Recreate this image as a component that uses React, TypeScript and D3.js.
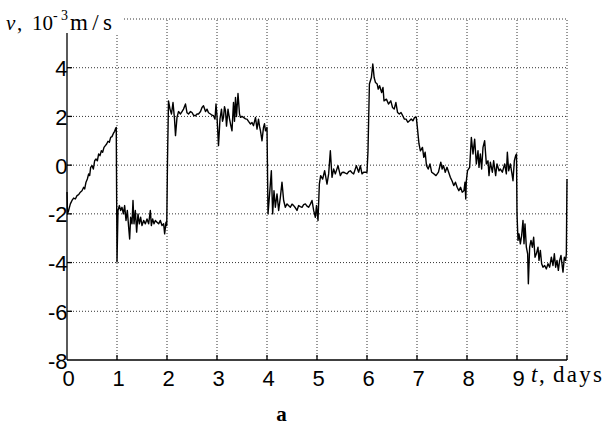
import React, { useEffect, useRef } from 'react';
import * as d3 from 'd3';

type Pt = [number, number];

// v in 10^-3 m/s against t in days, one array per day
const day0: Pt[] = [
  [0, -1.1], [0.01, -2.0], [0.033, -1.86], [0.067, -1.59], [0.1, -1.45], [0.133, -1.35],
  [0.167, -1.39], [0.2, -1.25], [0.233, -1.21], [0.267, -1.11], [0.3, -1.05], [0.333, -0.91],
  [0.353, -0.98], [0.38, -0.7], [0.407, -0.57], [0.433, -0.36], [0.453, -0.43], [0.473, -0.09],
  [0.5, -0.02], [0.527, -0.16], [0.553, 0.18], [0.58, 0.25], [0.607, 0.18], [0.633, 0.46],
  [0.66, 0.39], [0.687, 0.59], [0.713, 0.53], [0.74, 0.73], [0.767, 0.8], [0.793, 0.87],
  [0.82, 0.98], [0.847, 0.94], [0.873, 1.14], [0.9, 1.17], [0.927, 1.3], [0.953, 1.39],
  [0.967, 1.48], [0.985, 1.55],
];
const day1: Pt[] = [
  [1.0, -3.98], [1.02, -1.86], [1.047, -1.66], [1.073, -1.86], [1.1, -1.73], [1.127, -2.0],
  [1.153, -1.66], [1.18, -2.27], [1.207, -1.86], [1.233, -2.55], [1.253, -3.03], [1.273, -2.14],
  [1.3, -2.41], [1.32, -1.45], [1.34, -2.41], [1.367, -1.86], [1.393, -2.75], [1.42, -2.0],
  [1.447, -2.41], [1.473, -2.14], [1.5, -2.48], [1.533, -2.27], [1.567, -2.41], [1.6, -2.21],
  [1.633, -2.41], [1.667, -1.86], [1.687, -2.48], [1.713, -2.21], [1.74, -2.41], [1.767, -2.27],
  [1.8, -2.34], [1.833, -2.41], [1.867, -2.27], [1.9, -2.48], [1.933, -2.41], [1.953, -2.82],
  [1.98, -2.34], [1.995, -2.48],
];
const day2: Pt[] = [
  [2.01, 0.2], [2.03, 2.64], [2.06, 2.3], [2.09, 2.1], [2.12, 2.57], [2.15, 1.9], [2.17, 1.21],
  [2.2, 1.96], [2.23, 2.2], [2.27, 2.1], [2.3, 2.2], [2.33, 2.3], [2.37, 2.51], [2.4, 2.15],
  [2.43, 2.1], [2.47, 2.2], [2.5, 2.16], [2.53, 2.05], [2.57, 2.03], [2.6, 2.1], [2.63, 2.1],
  [2.67, 2.2], [2.7, 2.37], [2.73, 2.44], [2.77, 2.2], [2.8, 2.3], [2.83, 2.15], [2.87, 2.1],
  [2.9, 2.05], [2.93, 2.03], [2.96, 1.89], [2.98, 2.51],
];
const day3: Pt[] = [
  [3.0, 2.0], [3.03, 0.8], [3.06, 1.9], [3.09, 2.3], [3.11, 1.8], [3.13, 1.96], [3.15, 2.4],
  [3.17, 2.23], [3.19, 1.6], [3.2, 1.82], [3.22, 2.3], [3.23, 2.16], [3.25, 1.9], [3.27, 1.69],
  [3.3, 1.41], [3.32, 2.2], [3.33, 2.57], [3.35, 1.8], [3.37, 2.78], [3.39, 2.0], [3.42, 2.94],
  [3.45, 2.1], [3.47, 1.96], [3.5, 2.0], [3.53, 1.96], [3.57, 1.9], [3.6, 1.89], [3.63, 1.8],
  [3.67, 1.69], [3.7, 1.75], [3.73, 1.62], [3.77, 1.96], [3.8, 1.48], [3.83, 1.89], [3.85, 1.6],
  [3.87, 1.41], [3.9, 1.0], [3.93, 1.55], [3.95, 1.7], [3.97, 1.41], [3.99, 1.5],
];
const day4: Pt[] = [
  [4.0, 1.55], [4.02, -2.0], [4.047, -1.32], [4.087, -0.23], [4.113, -2.0], [4.14, -1.05],
  [4.167, -1.73], [4.2, -1.18], [4.233, -1.86], [4.267, -1.32], [4.3, -0.7], [4.333, -1.45],
  [4.367, -1.73], [4.4, -1.59], [4.43, -1.66], [4.467, -1.73], [4.5, -1.6], [4.533, -1.66],
  [4.567, -1.75], [4.6, -1.86], [4.633, -1.66], [4.667, -1.7], [4.7, -1.73], [4.733, -1.62],
  [4.767, -1.59], [4.8, -1.68], [4.833, -1.73], [4.867, -1.6], [4.9, -1.45], [4.933, -1.86],
  [4.967, -2.14], [4.99, -1.66],
];
const day5: Pt[] = [
  [5.02, -2.27], [5.047, -0.78], [5.073, -0.43], [5.113, -0.57], [5.153, -0.23], [5.2, -0.78],
  [5.233, -0.36], [5.267, 0.59], [5.3, -0.5], [5.333, -0.16], [5.367, -0.36], [5.42, -0.02],
  [5.467, -0.43], [5.5, -0.3], [5.533, -0.29], [5.567, -0.33], [5.6, -0.36], [5.633, -0.27],
  [5.667, -0.23], [5.7, -0.31], [5.733, -0.36], [5.787, -0.02], [5.833, -0.29], [5.867, -0.02],
  [5.9, -0.36], [5.933, -0.29], [5.98, -0.29],
];
const day6: Pt[] = [
  [6.0, -0.29], [6.02, 0.59], [6.048, 3.33], [6.088, 3.6], [6.116, 4.15], [6.13, 3.87],
  [6.143, 3.6], [6.17, 3.39], [6.204, 3.33], [6.224, 3.12], [6.252, 3.26], [6.293, 2.98],
  [6.32, 3.19], [6.34, 2.64], [6.388, 2.71], [6.43, 2.51], [6.476, 2.64], [6.51, 2.37],
  [6.544, 2.3], [6.578, 2.57], [6.612, 2.16], [6.646, 2.1], [6.68, 2.16], [6.714, 2.03],
  [6.748, 1.89], [6.782, 1.89], [6.816, 1.76], [6.85, 1.82], [6.884, 1.89], [6.918, 1.82],
  [6.952, 1.96], [6.986, 1.96],
];
const day7: Pt[] = [
  [7.007, 1.55], [7.04, 0.87], [7.068, 0.59], [7.109, 0.73], [7.136, 0.32], [7.163, 0.53],
  [7.19, -0.02], [7.224, -0.16], [7.259, 0.05], [7.293, -0.29], [7.34, -0.36], [7.38, -0.43],
  [7.429, -0.29], [7.476, 0.12], [7.503, -0.16], [7.53, -0.02], [7.565, -0.29], [7.6, -0.09],
  [7.633, -0.29], [7.667, -0.5], [7.7, -0.64], [7.735, -0.84], [7.769, -0.7], [7.803, -0.91],
  [7.837, -1.05], [7.871, -0.91], [7.905, -1.11], [7.939, -1.05], [7.96, -0.7], [7.975, -1.39],
  [7.987, -0.64],
];
const day8: Pt[] = [
  [8.01, -0.23], [8.053, -0.09], [8.087, 1.14], [8.12, 0.46], [8.153, 1.07], [8.187, 0.05],
  [8.22, 0.59], [8.24, -0.09], [8.267, 0.46], [8.293, -0.16], [8.32, 0.73], [8.353, 1.0],
  [8.387, 0.05], [8.42, 0.18], [8.44, -0.43], [8.467, 0.12], [8.507, -0.29], [8.533, 0.18],
  [8.573, -0.43], [8.6, 0.05], [8.64, -0.23], [8.667, -0.16], [8.707, -0.29], [8.753, 0.05],
  [8.787, -0.36], [8.807, 0.53], [8.833, -0.23], [8.867, 0.05], [8.9, -0.36], [8.92, -0.64],
  [8.947, 0.18], [8.973, 0.39], [8.99, 0.46],
];
const day9: Pt[] = [
  [9.0, -2.0], [9.02, -3.09], [9.04, -2.82], [9.067, -3.23], [9.093, -2.89], [9.12, -2.27],
  [9.14, -3.23], [9.16, -2.41], [9.187, -3.37], [9.213, -3.64], [9.227, -4.87], [9.253, -3.37],
  [9.28, -3.09], [9.307, -3.37], [9.333, -2.96], [9.36, -3.78], [9.387, -3.64], [9.42, -3.37],
  [9.44, -3.91], [9.467, -3.5], [9.493, -4.05], [9.52, -4.19], [9.553, -4.12], [9.587, -4.26],
  [9.62, -4.05], [9.653, -4.19], [9.687, -3.78], [9.72, -4.12], [9.747, -3.64], [9.773, -4.19],
  [9.8, -3.91], [9.827, -4.32], [9.853, -3.91], [9.88, -3.71], [9.907, -4.19], [9.92, -4.39],
  [9.947, -3.78], [9.973, -3.91], [9.987, -3.64], [9.995, -1.73], [10.0, -0.57],
];

const xTicks = [0, 1, 2, 3, 4, 5, 6, 7, 8, 9];
const yTicks = [-8, -6, -4, -2, 0, 2, 4];
const xGrid = [1, 2, 3, 4, 5, 6, 7, 8, 9, 10];
const yGrid = [-6, -4, -2, 0, 2, 4, 6];

const App: React.FC = () => {
  const svgRef = useRef<SVGSVGElement>(null);

  useEffect(() => {
    if (!svgRef.current) return;
    const svg = d3.select(svgRef.current);
    svg.selectAll('*').remove();

    const x = d3.scaleLinear().domain([0, 10]).range([67, 567]);
    const y = d3.scaleLinear().domain([-8, 6]).range([360, 19]);

    const sans = '"Liberation Sans", Arial, sans-serif';
    const serif = '"Liberation Serif", "Times New Roman", serif';

    // dotted grid (also forms the top and right edge)
    const grid = svg.append('g')
      .attr('stroke', '#333')
      .attr('stroke-width', 1)
      .attr('stroke-dasharray', '1 2');
    grid.selectAll('.gx').data(xGrid).enter().append('line')
      .attr('x1', d => x(d)).attr('x2', d => x(d))
      .attr('y1', y(-8)).attr('y2', y(6));
    grid.selectAll('.gy').data(yGrid).enter().append('line')
      .attr('x1', x(0)).attr('x2', x(10))
      .attr('y1', d => y(d)).attr('y2', d => y(d));

    // the series
    const data = [...day0, ...day1, ...day2, ...day3, ...day4, ...day5, ...day6, ...day7, ...day8, ...day9];
    const line = d3.line<Pt>().x(d => x(d[0])).y(d => y(d[1]));
    svg.append('path')
      .datum(data)
      .attr('fill', 'none')
      .attr('stroke', '#000')
      .attr('stroke-width', 1.4)
      .attr('stroke-linejoin', 'round')
      .attr('d', line);

    // axes: solid left and bottom, inward ticks
    const ax = svg.append('g').attr('stroke', '#000').attr('stroke-width', 1.3);
    ax.append('line').attr('x1', x(0)).attr('x2', x(0)).attr('y1', y(6)).attr('y2', y(-8));
    ax.append('line').attr('x1', x(0)).attr('x2', x(10)).attr('y1', y(-8)).attr('y2', y(-8));
    ax.selectAll('.tx').data(xGrid).enter().append('line')
      .attr('x1', d => x(d)).attr('x2', d => x(d))
      .attr('y1', y(-8)).attr('y2', y(-8) - 5);
    ax.selectAll('.ty').data(yGrid).enter().append('line')
      .attr('x1', x(0)).attr('x2', x(0) + 5)
      .attr('y1', d => y(d)).attr('y2', d => y(d));

    svg.selectAll('.xl').data(xTicks).enter().append('text')
      .attr('x', d => x(d) + 1.5)
      .attr('y', 386)
      .attr('text-anchor', 'middle')
      .style('font-family', sans)
      .style('font-size', '22px')
      .text(d => d.toString());

    svg.selectAll('.yl').data(yTicks).enter().append('text')
      .attr('x', x(0) + 0.5)
      .attr('y', d => y(d) + 8.5)
      .attr('text-anchor', 'end')
      .style('font-family', sans)
      .style('font-size', '22px')
      .text(d => d.toString());

    // y label sits on a white patch over the top-left corner
    svg.append('rect')
      .attr('x', 0).attr('y', 0)
      .attr('width', 122).attr('height', 33)
      .attr('fill', '#fff');

    const yl = svg.append('text')
      .attr('y', 30)
      .style('font-family', serif)
      .style('font-size', '21px');
    yl.append('tspan').attr('x', 6).style('font-style', 'italic').text('v');
    yl.append('tspan').attr('x', 17).text(',');
    yl.append('tspan').attr('x', 32).text('10');
    yl.append('tspan').attr('x', 53).attr('y', 20).style('font-size', '14px')
      .attr('textLength', 15).text('-3');
    yl.append('tspan').attr('x', 70).attr('y', 30).style('font-size', '23px')
      .attr('textLength', 42).text('m/s');

    const xl = svg.append('text')
      .attr('y', 382)
      .style('font-family', serif)
      .style('font-size', '23px');
    xl.append('tspan').attr('x', 531).style('font-style', 'italic').text('t');
    xl.append('tspan').attr('x', 539).text(',');
    xl.append('tspan').attr('x', 553).attr('textLength', 49).text('days');

    svg.append('text')
      .attr('x', 281.5)
      .attr('y', 421)
      .attr('text-anchor', 'middle')
      .style('font-family', serif)
      .style('font-size', '21px')
      .style('font-weight', 'bold')
      .text('a');
  }, []);

  return (
    <svg
      ref={svgRef}
      width={603}
      height={425}
      style={{ position: 'absolute', left: 0, top: 0, background: '#fff' }}
    />
  );
};

export default App;
